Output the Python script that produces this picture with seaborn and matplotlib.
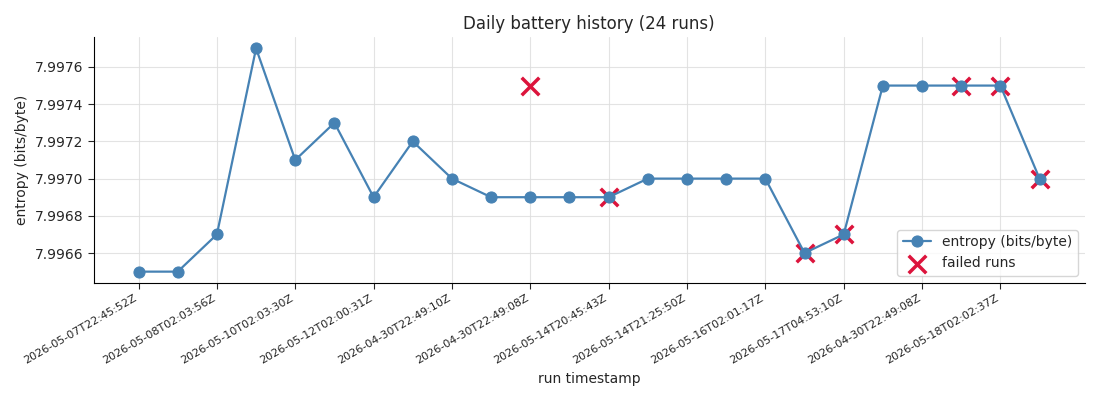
import matplotlib
matplotlib.use("Agg")
import matplotlib.pyplot as plt
import seaborn as sns
import pandas as pd

run_index = list(range(24))
entropy = [7.9965, 7.9965, 7.9967, 7.9977, 7.9971, 7.9973, 7.9969, 7.9972,
           7.9970, 7.9969, 7.9969, 7.9969, 7.9969, 7.9970, 7.9970, 7.9970,
           7.9970, 7.9966, 7.9967, 7.9975, 7.9975, 7.9975, 7.9975, 7.9970]
failed_index = [10, 12, 17, 18, 21, 22, 23]
failed_entropy = [7.9975, 7.9969, 7.9966, 7.9967, 7.9975, 7.9975, 7.9970]
tick_positions = [0, 2, 4, 6, 8, 10, 12, 14, 16, 18, 20, 22]
tick_labels = ["2026-05-07T22:45:52Z", "2026-05-08T02:03:56Z", "2026-05-10T02:03:30Z",
               "2026-05-12T02:00:31Z", "2026-04-30T22:49:10Z", "2026-04-30T22:49:08Z",
               "2026-05-14T20:45:43Z", "2026-05-14T21:25:50Z", "2026-05-16T02:01:17Z",
               "2026-05-17T04:53:10Z", "2026-04-30T22:49:08Z", "2026-05-18T02:02:37Z"]

sns.set_style("white")
plt.rcParams['font.family'] = ['DejaVu Sans']

df = pd.DataFrame({"run": run_index, "entropy": entropy})
df_fail = pd.DataFrame({"run": failed_index, "entropy": failed_entropy})

fig, ax = plt.subplots(figsize=(11, 4), dpi=100)
sns.scatterplot(data=df_fail, x="run", y="entropy", ax=ax, marker="x", s=160,
                color="crimson", linewidth=2.5, label="failed runs", zorder=2)
sns.lineplot(data=df, x="run", y="entropy", ax=ax, marker="o", markersize=8,
             color="steelblue", markeredgecolor="steelblue", linewidth=1.6,
             label="entropy (bits/byte)", zorder=3)

ax.set_xticks(tick_positions)
ax.set_xticklabels(tick_labels, rotation=30, ha="right", fontsize=8)
ax.tick_params(axis="x", length=4, width=0.8)
ax.tick_params(axis="y", labelsize=10, length=4, width=0.8, left=True)
ax.tick_params(axis="x", bottom=True)
ax.grid(True, color="#dddddd", linewidth=0.8, alpha=0.8)
ax.set_axisbelow(True)
sns.despine(ax=ax)
for s in ["left", "bottom"]:
    ax.spines[s].set_color("black")
    ax.spines[s].set_linewidth(0.8)
ax.set_xlabel("run timestamp", fontsize=10)
ax.set_ylabel("entropy (bits/byte)", fontsize=10)
ax.set_title("Daily battery history (24 runs)", fontsize=12)
ax.ticklabel_format(axis="y", useOffset=False)
ax.yaxis.set_major_formatter(matplotlib.ticker.FormatStrFormatter("%.4f"))

handles, labels = ax.get_legend_handles_labels()
order = [labels.index("entropy (bits/byte)"), labels.index("failed runs")]
ax.legend([handles[i] for i in order], [labels[i] for i in order], loc="lower right", fontsize=10)

fig.subplots_adjust(left=0.085, right=0.986, top=0.907, bottom=0.293)
fig.savefig("out.png", dpi=100)
